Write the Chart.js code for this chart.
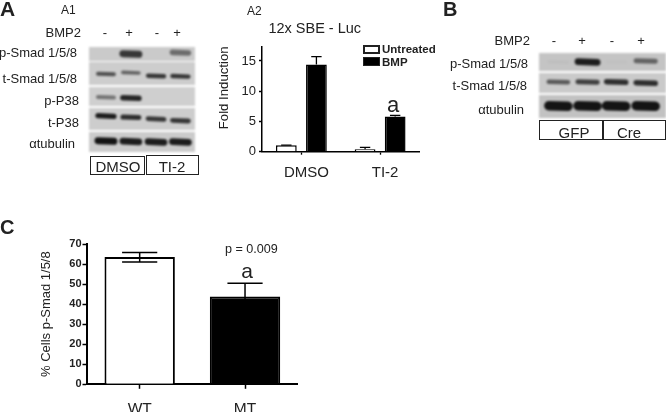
<!DOCTYPE html>
<html lang="en">
<head>
  <meta charset="UTF-8">
  <title>BMP signalling figure</title>
  <script src="https://cdn.jsdelivr.net/npm/chart.js"></script>
  <style>
    html, body { margin: 0; padding: 0; background: #fff; overflow: hidden; }
    #page { position: relative; width: 666px; height: 412px; overflow: hidden; filter: blur(0.35px);
            font-family: "Liberation Sans", Arial, sans-serif; color: #222; }
    canvas { position: absolute; }
    .blot { filter: blur(0.8px); }
    .t { position: absolute; white-space: nowrap; line-height: 1; }
    .box { position: absolute; border: 1.5px solid #222; box-sizing: border-box; }
  </style>
</head>
<body>
<div id="page">
  <canvas id="blotA" class="blot" width="106" height="106" style="left:89px;top:47px"></canvas>
  <canvas id="blotB" class="blot" width="127" height="66" style="left:539px;top:53px"></canvas>
  <canvas id="chartA2" width="270" height="170" style="left:210px;top:20px"></canvas>
  <canvas id="chartC" width="300" height="177" style="left:0;top:235px"></canvas>
</div>

<script>
  // Luciferase panel A2
  const a2Categories = ['DMSO', 'TI-2'];
  const a2Untreated = [1.05, 0.4];
  const a2UntreatedErr = [1.1, 0.7];
  const a2Bmp = [14.4, 5.8];
  const a2BmpErr = [15.7, 6.0];
  const a2Ticks = [0, 5, 10, 15];

  // Panel C
  const cCategories = ['WT', 'MT'];
  const cValues = [63.5, 43.8];
  const cErrHigh = [65.7, 50.4];
  const cErrLow = [61, 37.2];

  // Blots: band strength per lane (0 = nothing, 1 = darkest)
  const lanes = ['-', '+', '-', '+'];
  const blotARows = ['p-Smad 1/5/8', 't-Smad 1/5/8', 'p-P38', 't-P38', '\u03b1tubulin'];
  const blotAStrength = [
    [0, 0.8, 0, 0.5],
    [0.65, 0.55, 0.8, 0.8],
    [0.45, 0.9, 0, 0],
    [0.95, 0.85, 0.8, 0.8],
    [1, 0.95, 0.95, 0.95]
  ];
  const blotBRows = ['p-Smad 1/5/8', 't-Smad 1/5/8', '\u03b1tubulin'];
  const blotBStrength = [
    [0.03, 0.95, 0.02, 0.55],
    [0.6, 0.75, 0.85, 0.85],
    [1, 1, 1, 1]
  ];

  // Layout of the blots, in canvas units
  const blotALayout = {
    edges: [[0, 14], [15, 38], [40, 59], [61, 83], [85, 105]],
    shade: ['#cacaca', '#cdcdcd', '#cfcfcf', '#cdcdcd', '#cbcbcb'],
    laneX: [0.64, 1.58, 2.53, 3.45],
    laneW: 0.3,
    bandY: [
      [7, 7, 7, 5.7],
      [27, 25.7, 29, 29.3],
      [50.3, 51, 51, 51],
      [69, 70.3, 72, 73.7],
      [94, 94.5, 95, 95]
    ],
    thick: [8, 5, 6, 5.5, 7]
  };
  const blotBLayout = {
    edges: [[0, 18], [20, 40], [42, 65]],
    shade: ['#c4c4c4', '#cacaca', '#c2c2c2'],
    laneX: [0.61, 1.53, 2.43, 3.36],
    laneW: 0.3,
    bandY: [
      [9, 9, 9, 8],
      [29, 29, 29, 30],
      [53, 53, 53, 53]
    ],
    thick: [7, 6, 9.5]
  };

  Chart.defaults.animation = false;
  Chart.defaults.font.family = '"Liberation Sans", Arial, sans-serif';
  Chart.defaults.color = '#222';

  const page = document.getElementById('page');

  function label(text, x, y, size, anchor, bold) {
    const el = document.createElement('span');
    el.className = 't';
    el.textContent = text;
    el.style.left = x + 'px';
    el.style.top = y + 'px';
    el.style.fontSize = size + 'px';
    if (bold) el.style.fontWeight = 'bold';
    const dx = anchor === 'end' ? '-100%' : anchor === 'middle' ? '-50%' : '0';
    el.style.transform = 'translate(' + dx + ',-50%)';
    page.appendChild(el);
  }

  function box(x, y, w, h) {
    const el = document.createElement('div');
    el.className = 'box';
    el.style.cssText = 'left:' + x + 'px;top:' + y + 'px;width:' + w + 'px;height:' + h + 'px';
    page.appendChild(el);
    return el;
  }

  function drawBlot(id, strength, layout) {
    const canvas = document.getElementById(id);
    const datasets = [];
    strength.forEach((row, r) => {
      const [top, bottom] = layout.edges[r];
      datasets.push({
        data: [{ x: 0, y: (top + bottom) / 2 }, { x: 4, y: (top + bottom) / 2 }],
        borderColor: layout.shade[r],
        borderWidth: bottom - top,
        borderCapStyle: 'butt',
        pointRadius: 0,
        order: 1
      });
      row.forEach((s, lane) => {
        if (s === 0) return;
        const grey = Math.round(195 * (1 - s) + 20 * s);
        const cx = layout.laneX[lane];
        const cy = layout.bandY[r][lane];
        datasets.push({
          data: [{ x: cx - layout.laneW, y: cy - 0.3 }, { x: cx + layout.laneW, y: cy + 0.3 }],
          borderColor: 'rgb(' + grey + ',' + grey + ',' + grey + ')',
          borderWidth: layout.thick[r] * (0.4 + 0.6 * s),
          borderCapStyle: 'round',
          pointRadius: 0,
          order: 0
        });
      });
    });
    new Chart(canvas, {
      type: 'scatter',
      data: { datasets: datasets },
      options: {
        responsive: false,
        showLine: true,
        layout: { padding: 0 },
        plugins: { legend: { display: false }, tooltip: { enabled: false } },
        scales: {
          x: { display: false, min: 0, max: 4 },
          y: { display: false, min: 0, max: canvas.height, reverse: true }
        }
      }
    });
  }

  // Error bars
  const errorBars = {
    id: 'errorBars',
    afterDatasetsDraw(chart, args, opts) {
      const ctx = chart.ctx;
      const yScale = chart.scales.y;
      ctx.save();
      ctx.strokeStyle = opts.color || '#000';
      ctx.lineWidth = opts.width || 1.5;
      chart.data.datasets.forEach((ds, i) => {
        chart.getDatasetMeta(i).data.forEach((bar, j) => {
          const half = bar.width * opts.cap / 2;
          const top = yScale.getPixelForValue(ds.errHigh[j]);
          const bottom = yScale.getPixelForValue(ds.errLow ? ds.errLow[j] : ds.data[j]);
          ctx.beginPath();
          ctx.moveTo(bar.x, bottom);
          ctx.lineTo(bar.x, top);
          ctx.moveTo(bar.x - half, top);
          ctx.lineTo(bar.x + half, top);
          if (ds.errLow) {
            ctx.moveTo(bar.x - half, bottom);
            ctx.lineTo(bar.x + half, bottom);
          }
          ctx.stroke();
        });
      });
      ctx.restore();
    }
  };

  new Chart(document.getElementById('chartA2'), {
    type: 'bar',
    data: {
      labels: a2Categories,
      datasets: [
        { label: 'Untreated', data: a2Untreated, errHigh: a2UntreatedErr, backgroundColor: '#fff', borderColor: '#000', borderWidth: 1.5 },
        { label: 'BMP', data: a2Bmp, errHigh: a2BmpErr, backgroundColor: '#000', borderColor: '#000', borderWidth: 1.5 }
      ]
    },
    plugins: [errorBars],
    options: {
      responsive: false,
      categoryPercentage: 0.764,
      barPercentage: 0.69,
      layout: { padding: { right: 60.5 } },
      plugins: {
        legend: { display: false },
        tooltip: { enabled: false },
        title: {
          display: true,
          text: '12x SBE - Luc',
          font: { size: 14.5, weight: 'normal' },
          padding: { top: 0, bottom: 9 }
        },
        errorBars: { cap: 0.5, width: 1.3 }
      },
      scales: {
        x: {
          afterFit(scale) { scale.height = 38.3; },
          grid: { offset: false, drawOnChartArea: false, tickLength: 3, tickColor: '#000', tickWidth: 1.3 },
          border: { color: '#000', width: 1.5 },
          ticks: { font: { size: 15 }, padding: 9, labelOffset: 5 }
        },
        y: {
          min: 0,
          max: 17.4,
          afterFit(scale) { scale.width = 52; },
          afterBuildTicks(scale) { scale.ticks = a2Ticks.map(v => ({ value: v })); },
          title: { display: true, text: 'Fold Induction', font: { size: 13.2 }, align: 'end', padding: { top: 6, bottom: 0 } },
          grid: { drawOnChartArea: false, tickLength: 3, tickColor: '#000', tickWidth: 1.3 },
          border: { color: '#000', width: 1.5 },
          ticks: { font: { size: 13 }, padding: 3 }
        }
      }
    }
  });

  new Chart(document.getElementById('chartC'), {
    type: 'bar',
    data: {
      labels: cCategories,
      datasets: [{
        label: '% Cells p-Smad 1/5/8',
        data: cValues,
        errHigh: cErrHigh,
        errLow: cErrLow,
        backgroundColor: ['#fff', '#000'],
        borderColor: '#000',
        borderWidth: 2
      }]
    },
    plugins: [errorBars],
    options: {
      responsive: false,
      categoryPercentage: 1,
      barPercentage: 0.668,
      layout: { padding: { top: 9, right: 2.3 } },
      plugins: {
        legend: { display: false },
        tooltip: { enabled: false },
        errorBars: { cap: 0.5, width: 1.5 }
      },
      scales: {
        x: {
          afterFit(scale) { scale.height = 27.7; },
          grid: { offset: false, drawOnChartArea: false, tickLength: 4.5, tickColor: '#000', tickWidth: 1.5 },
          border: { color: '#000', width: 2 },
          ticks: { font: { size: 15.5 }, padding: 11 }
        },
        y: {
          min: 0,
          max: 70,
          afterFit(scale) { scale.width = 87; },
          title: { display: true, text: '% Cells p-Smad 1/5/8', font: { size: 13 }, padding: { top: 39, bottom: 0 } },
          grid: { drawOnChartArea: false, tickLength: 4.5, tickColor: '#000', tickWidth: 1.5 },
          border: { color: '#000', width: 2 },
          ticks: { stepSize: 10, font: { size: 11, weight: 'bold' }, padding: 1 }
        }
      }
    }
  });

  drawBlot('blotA', blotAStrength, blotALayout);
  drawBlot('blotB', blotBStrength, blotBLayout);

  // Panel letters
  label('A', 0, 7.5, 21, 'start', true);
  label('B', 443, 9, 20, 'start', true);
  label('C', 0, 227, 20, 'start', true);
  label('A1', 61, 10, 12, 'start');
  label('A2', 247, 11, 12, 'start');

  // Blot A labels
  label('BMP2', 81, 32, 13, 'end');
  [105, 129, 157, 177].forEach((x, i) => label(lanes[i], x, 32, 13, 'middle'));
  [52, 78, 100, 122, 143].forEach((y, i) => label(blotARows[i], [77, 77, 79, 79, 75][i], y, 13, 'end'));
  box(90, 156, 55, 19);
  box(146, 155, 53, 20);
  label('DMSO', 118, 166, 15, 'middle');
  label('TI-2', 172, 166, 15, 'middle');

  // Blot B labels
  label('BMP2', 530, 40, 13, 'end');
  [554, 582, 612, 641].forEach((x, i) => label(lanes[i], x, 40, 13, 'middle'));
  [63, 85, 109].forEach((y, i) => label(blotBRows[i], [528, 527, 524][i], y, 13, 'end'));
  box(539, 120, 127, 20);
  box(601.5, 120, 1.5, 20);
  label('GFP', 574, 132, 15, 'middle');
  label('Cre', 629, 132, 15, 'middle');

  // Legend of A2
  box(363, 45, 17, 8.5).style.borderWidth = '2px';
  box(363, 57, 17, 9).style.background = '#000';
  label('Untreated', 382, 50, 11.5, 'start', true);
  label('BMP', 382, 63, 11.5, 'start', true);

  // Significance marks
  label('a', 393, 105, 22, 'middle');
  label('a', 247, 270, 21, 'middle');
  label('p = 0.009', 225, 249, 12.6, 'start');
</script>
</body>
</html>
